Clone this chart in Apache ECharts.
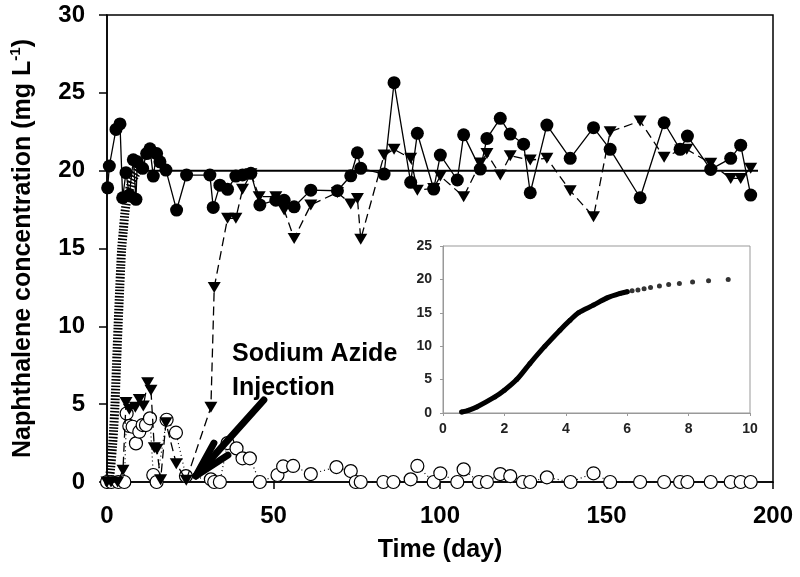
<!DOCTYPE html>
<html><head><meta charset="utf-8">
<script src="https://cdn.jsdelivr.net/npm/echarts@6/dist/echarts.min.js"></script>
<style>html,body{margin:0;padding:0;background:#fff}#c{width:800px;height:577px}</style>
</head><body><div id="c"></div>
<script>
// ---- tick labels ----
const xTicks = [0, 50, 100, 150, 200];
const yTicks = [0, 5, 10, 15, 20, 25, 30];
const insetXTicks = [0, 2, 4, 6, 8, 10];
const insetYTicks = [0, 5, 10, 15, 20, 25];

// ---- filled circles (solid line) ----
const filledDays = [0.2,0.7,2.7,3.9,4.7,5.7,6.7,7.9,8.7,9.1,10.7,11.9,12.9,13.9,14.9,15.9,17.7,20.9,23.9,30.9,31.9,33.9,36.2,38.7,40.7,43.2,45.9,50.7,53.2,56.2,61.2,69.2,73.2,75.2,76.2,83.2,86.2,91.2,93.2,98.1,100.1,105.2,107.1,112.1,114.1,118.1,121.1,125.1,127.1,132.1,139.1,146.1,151.1,160.1,167.3,172.1,174.3,181.3,187.3,190.3,193.3];
const filledVals = [18.9,20.3,22.65,23.0,18.26,19.87,18.43,20.7,18.16,20.57,20.15,21.1,21.4,19.65,21.1,20.57,20.04,17.47,19.72,19.72,17.64,19.07,18.8,19.65,19.72,19.83,17.8,18.1,18.1,17.68,18.75,18.71,19.67,21.15,20.15,19.78,25.65,19.25,22.4,18.82,21.0,19.4,22.3,20.1,22.07,23.36,22.35,21.7,18.58,22.93,20.79,22.76,21.37,18.26,23.08,21.37,22.22,20.08,20.79,21.64,18.43];

// ---- inverted triangles (dashed line) ----
const triDays = [0.0,1.2,3.2,4.8,5.7,6.7,8.5,9.7,10.9,12.2,13.2,14.2,15.0,16.1,17.7,20.8,23.8,31.2,32.2,36.2,38.7,40.7,43.2,45.7,50.7,53.2,56.2,61.2,69.2,73.2,75.2,76.2,83.2,86.2,91.2,93.2,98.1,100.1,107.1,112.1,114.1,118.1,121.1,127.1,132.1,139.1,146.1,151.1,160.1,167.3,172.3,174.1,181.3,187.3,190.3,193.3];
const triVals = [0,0,0,0.75,5.1,4.67,4.8,5.3,4.88,6.38,5.9,2.2,2.1,0.15,3.8,1.18,0.12,4.8,12.5,16.94,16.94,18.8,19.8,18.33,18.33,17.47,15.65,17.8,18.6,17.86,18.22,15.6,21.0,21.37,20.79,18.75,18.86,19.65,18.33,20.5,21.1,19.72,20.96,20.68,20.79,18.71,17.04,22.5,23.19,20.86,21.33,21.37,20.47,19.5,19.5,20.15];

// ---- open circles (dotted line) ----
const openDays = [0.0,1.3,3.4,5.2,5.9,6.7,7.7,8.7,9.7,10.7,11.7,12.9,13.9,14.9,17.9,20.7,23.7,31.2,32.2,33.9,36.2,38.9,40.7,42.9,45.9,51.2,52.9,55.9,61.2,68.9,73.2,74.7,76.2,83.0,86.0,91.2,93.2,98.1,100.1,105.2,107.1,111.7,114.1,118.1,121.1,124.9,127.1,132.1,139.2,146.1,151.1,160.1,167.3,172.1,174.3,181.3,187.3,190.3,193.3];
const openVals = [0,0,0,0,4.4,3.6,3.55,2.48,3.23,3.66,3.66,4.09,0.45,0,4.0,3.17,0.38,0.17,0,0,2.5,2.16,1.52,1.52,0,0.45,1.0,1.03,0.51,0.96,0.7,0,0,0,0,0.17,1.03,0,0.56,0,0.81,0,0,0.51,0.38,0,0,0.3,0,0.56,0,0,0,0,0,0,0,0,0];

// ---- model curve (inset and hatched band) ----
const modelDays = [0.61,0.83,1.1,1.69,2.0,2.4,2.83,3.32,3.81,4.14,4.41,4.9,5.33,5.77,6.0,6.16,6.35,6.55,6.76,7.05,7.35,7.70,8.13,8.65,9.29];
const modelVals = [0.15,0.4,0.9,2.4,3.4,5.0,7.4,10.0,12.4,13.9,15.0,16.15,17.2,17.9,18.15,18.3,18.4,18.6,18.8,19.0,19.25,19.4,19.6,19.8,20.0];
const denseCount = 15;
const plateauDays = [9.3, 195.5];
const plateauVals = [20, 20];

const zip = (a, b) => a.map((v, i) => [v, b[i]]);
const FONT = 'Liberation Sans, Arial, Helvetica, sans-serif';

const chart = echarts.init(document.getElementById('c'), null, {renderer: 'canvas'});
const mainLabel = {fontSize: 24, fontWeight: 'bold', color: '#000', fontFamily: FONT};
const nameLabel = {fontSize: 25, fontWeight: 'bold', color: '#000', fontFamily: FONT};
const insetLabel = {fontSize: 14, fontWeight: 'bold', color: '#222', fontFamily: FONT};

chart.setOption({
  animation: false,
  backgroundColor: '#fff',
  grid: [
    {left: 106, top: 15, width: 667, height: 467, show: true, borderColor: '#000', borderWidth: 1.5, backgroundColor: 'transparent', containLabel: false},
    {left: 443, top: 246, width: 307, height: 167, show: true, borderColor: '#999', borderWidth: 1, backgroundColor: 'transparent', containLabel: false}
  ],
  xAxis: [
    {type: 'value', gridIndex: 0, min: xTicks[0], max: xTicks[xTicks.length - 1], interval: xTicks[1] - xTicks[0],
     axisLine: {show: true, onZero: false, lineStyle: {color: '#000', width: 1.5}},
     axisTick: {show: true, inside: false, length: 7, lineStyle: {color: '#000', width: 1.5}},
     splitLine: {show: false},
     axisLabel: Object.assign({margin: 22}, mainLabel),
     name: 'Time (day)', nameLocation: 'middle', nameGap: 56,
     nameTextStyle: nameLabel},
    {type: 'value', gridIndex: 1, min: insetXTicks[0], max: insetXTicks[insetXTicks.length - 1], interval: insetXTicks[1] - insetXTicks[0],
     axisLine: {show: true, onZero: false, lineStyle: {color: '#999', width: 1}},
     axisTick: {show: true, inside: false, length: 3, lineStyle: {color: '#999'}},
     splitLine: {show: false},
     axisLabel: Object.assign({margin: 9}, insetLabel)}
  ],
  yAxis: [
    {type: 'value', gridIndex: 0, min: yTicks[0], max: yTicks[yTicks.length - 1], interval: yTicks[1] - yTicks[0],
     axisLine: {show: true, onZero: false, lineStyle: {color: '#000', width: 1.5}},
     axisTick: {show: true, inside: false, length: 8, lineStyle: {color: '#000', width: 1.5}},
     splitLine: {show: false},
     axisLabel: Object.assign({margin: 22}, mainLabel),
     name: 'Naphthalene concentration (mg L{sup|-1})', nameLocation: 'middle', nameGap: 69,
     nameTextStyle: Object.assign({lineHeight: 30, rich: {sup: {fontSize: 15, fontWeight: 'bold', fontFamily: FONT, color: '#000', verticalAlign: 'top', lineHeight: 30}}}, nameLabel)},
    {type: 'value', gridIndex: 1, min: insetYTicks[0], max: insetYTicks[insetYTicks.length - 1], interval: insetYTicks[1] - insetYTicks[0],
     axisLine: {show: true, onZero: false, lineStyle: {color: '#999', width: 1}},
     axisTick: {show: true, inside: false, length: 3, lineStyle: {color: '#999'}},
     splitLine: {show: false},
     axisLabel: Object.assign({margin: 11}, insetLabel)}
  ],
  graphic: [
    {type: 'text', left: 232, top: 337, z: 10,
     style: {text: 'Sodium Azide\nInjection', fontSize: 25, fontWeight: 'bold', fontFamily: FONT, fill: '#000', lineHeight: 34}}
  ],
  series: [
    {name: 'model-main', type: 'line', xAxisIndex: 0, yAxisIndex: 0, data: zip(modelDays, modelVals),
     symbol: 'none', smooth: 0.3, clip: false, z: 2,
     lineStyle: {color: '#000', width: 9, type: [1.6, 1.6]}},
    {name: 'plateau', type: 'line', xAxisIndex: 0, yAxisIndex: 0, data: zip(plateauDays, plateauVals),
     symbol: 'none', clip: false, z: 2, lineStyle: {color: '#000', width: 2}},
    {name: 'open', type: 'line', xAxisIndex: 0, yAxisIndex: 0, data: zip(openDays, openVals),
     symbol: 'circle', symbolSize: 13, clip: false, z: 3,
     itemStyle: {color: '#fff', borderColor: '#000', borderWidth: 1.2},
     lineStyle: {color: '#000', width: 1.2, type: [1, 3]},
     markLine: {silent: true, symbol: ['none', 'none'], label: {show: false},
       lineStyle: {color: '#000', width: 7, type: 'solid', cap: 'round'},
       data: [
         [{coord: [26.7, 0.39]}, {coord: [47.1, 5.27]}],
         [{coord: [26.7, 0.39]}, {coord: [32.1, 2.5]}],
         [{coord: [26.7, 0.39]}, {coord: [36.3, 1.73]}]
       ]}},
    {name: 'tri', type: 'line', xAxisIndex: 0, yAxisIndex: 0, data: zip(triDays, triVals),
     symbol: 'triangle', symbolRotate: 180, symbolSize: [13, 11], clip: false, z: 4,
     itemStyle: {color: '#000'},
     lineStyle: {color: '#000', width: 1.3, type: [9, 5]}},
    {name: 'filled', type: 'line', xAxisIndex: 0, yAxisIndex: 0, data: zip(filledDays, filledVals),
     symbol: 'circle', symbolSize: 13, clip: false, z: 5,
     itemStyle: {color: '#000'},
     lineStyle: {color: '#000', width: 1.3}},
    {name: 'model-inset-line', type: 'line', xAxisIndex: 1, yAxisIndex: 1,
     data: zip(modelDays.slice(0, denseCount), modelVals.slice(0, denseCount)),
     symbol: 'none', smooth: 0.3, clip: false, z: 3, lineStyle: {color: '#000', width: 5, cap: 'round'}},
    {name: 'model-inset-pts', type: 'scatter', xAxisIndex: 1, yAxisIndex: 1, data: zip(modelDays, modelVals),
     symbol: 'circle', symbolSize: 5, z: 4, itemStyle: {color: '#000'}}
  ]
});
</script>
</body></html>
